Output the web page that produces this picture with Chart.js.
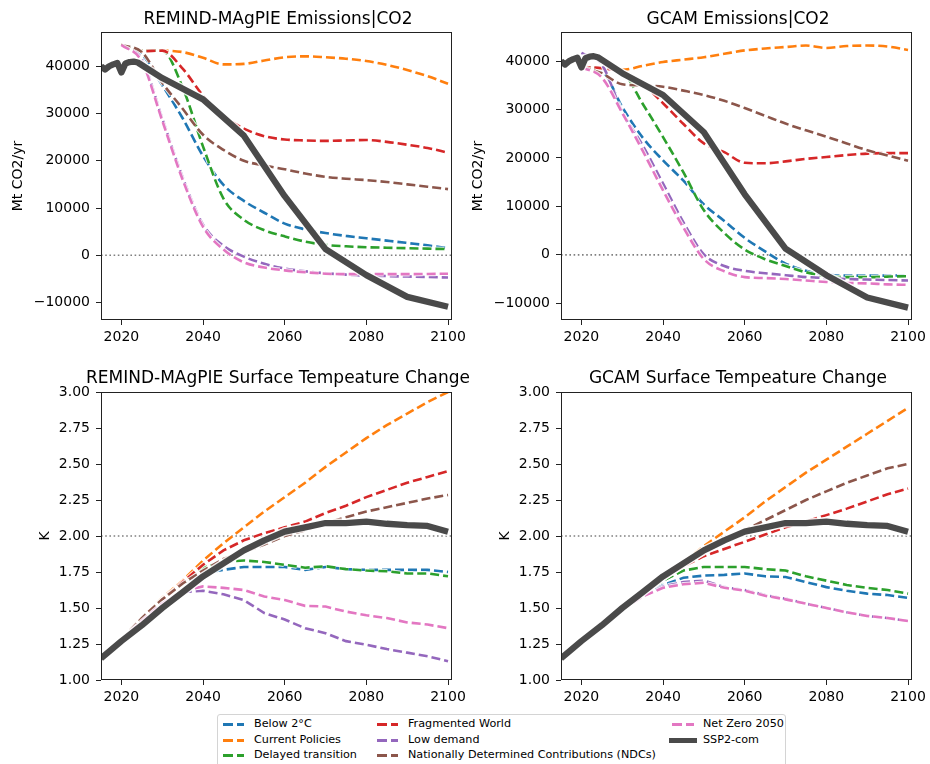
<!DOCTYPE html>
<html>
<head>
<meta charset="utf-8">
<script src="https://cdn.jsdelivr.net/npm/chart.js@4"></script>
<style>
  html, body { margin: 0; padding: 0; background: #fff; }
  #wrap { position: relative; width: 930px; height: 764px; overflow: hidden; background: #fff;
          font-family: 'DejaVu Sans', sans-serif; color: #000; }
  canvas { position: absolute; }
  .title { position: absolute; font-size: 17px; line-height: 20px; white-space: nowrap; transform: translateX(-50%); }
  #legend { position: absolute; left: 217px; top: 714px; width: 569px; height: 60px; background: #fff;
            border: 1px solid #d4d4d4; border-radius: 3px; box-sizing: border-box; }
  .lg-item { position: absolute; font-size: 11.2px; line-height: 14px; white-space: nowrap; }
  .lg-handle { position: absolute; height: 3px; }
</style>
</head>
<body>
<div id="wrap">
  <canvas id="c1" width="470" height="350" style="left:0;top:0"></canvas>
  <canvas id="c2" width="470" height="350" style="left:460px;top:0"></canvas>
  <canvas id="c3" width="470" height="350" style="left:0;top:360px"></canvas>
  <canvas id="c4" width="470" height="350" style="left:460px;top:360px"></canvas>
  <div class="title" style="left:278px;top:8px">REMIND-MAgPIE Emissions|CO2</div>
  <div class="title" style="left:738px;top:8px">GCAM Emissions|CO2</div>
  <div class="title" style="left:278px;top:367px">REMIND-MAgPIE Surface Tempeature Change</div>
  <div class="title" style="left:738px;top:367px">GCAM Surface Tempeature Change</div>
  <div id="legend"></div>
</div>
<script>
// scenario names and line colours
const seriesNames = ['Below 2°C', 'Current Policies', 'Delayed transition', 'Fragmented World',
  'Low demand', 'Nationally Determined Contributions (NDCs)', 'Net Zero 2050'];
const seriesColors = ['#1f77b4', '#ff7f0e', '#2ca02c', '#d62728', '#9467bd', '#8c564b', '#e377c2'];
const sspName = 'SSP2-com';
const sspColor = '#4a4a4a';

// ticks
const xTicks = [2020, 2040, 2060, 2080, 2100];
const emisTicks = [-10000, 0, 10000, 20000, 30000, 40000];
const tempTicks = [1.00, 1.25, 1.50, 1.75, 2.00, 2.25, 2.50, 2.75, 3.00];

// scenario years (5-yearly)
const scenarioYears = [2020, 2025, 2030, 2035, 2040, 2045, 2050, 2055, 2060, 2065, 2070, 2075, 2080, 2085, 2090, 2095, 2100];

// REMIND-MAgPIE emissions, Mt CO2/yr
const remBelow2C    = [44500, 42500, 36000, 29000, 21000, 14900, 11500, 9000, 6700, 5500, 4700, 4100, 3600, 3100, 2600, 2100, 1500];
const remCurrent    = [44500, 43300, 43300, 43000, 41800, 40400, 40500, 41200, 41900, 42100, 41900, 41600, 41100, 40300, 39200, 37900, 36300];
const remDelayed    = [44500, 43300, 43300, 35500, 23000, 12000, 7500, 5300, 4000, 2900, 2200, 1900, 1700, 1600, 1500, 1400, 1300];
const remFragmented = [44500, 43200, 43300, 39500, 33800, 29500, 26800, 25200, 24500, 24300, 24200, 24300, 24400, 24000, 23400, 22700, 21700];
const remLowDemand  = [44500, 41500, 29000, 16500, 6500, 2000, -300, -1800, -2800, -3400, -3800, -4100, -4300, -4400, -4500, -4600, -4700];
const remNDC        = [44500, 43000, 36500, 31000, 25500, 22300, 20000, 19000, 18200, 17300, 16600, 16200, 15900, 15500, 15000, 14500, 14000];
const remNetZero    = [44500, 41000, 28500, 16000, 6000, 1200, -1500, -2600, -3200, -3600, -3900, -4000, -4000, -4000, -4000, -3950, -3900];

// GCAM emissions, Mt CO2/yr
const gcamBelow2C    = [38800, 38000, 30500, 24200, 19500, 15300, 10400, 7000, 3500, 700, -1800, -3300, -4100, -4300, -4300, -4300, -4200];
const gcamCurrent    = [38700, 38400, 38200, 39000, 39800, 40300, 40800, 41500, 42200, 42600, 42900, 43200, 42700, 43100, 43200, 43000, 42300];
const gcamDelayed    = [38800, 38500, 37700, 31200, 24300, 17000, 9200, 4500, 1100, -900, -2300, -3600, -4400, -4600, -4600, -4500, -4400];
const gcamFragmented = [38800, 38500, 37800, 35300, 31300, 27000, 23000, 21200, 19000, 18900, 19300, 19800, 20200, 20600, 20900, 21000, 21000];
const gcamLowDemand  = [41700, 39300, 29500, 22600, 14700, 6700, 100, -2300, -3300, -3800, -4200, -4600, -4800, -5000, -5100, -5200, -5300];
const gcamNDC        = [38800, 37500, 35200, 35000, 34700, 33900, 33000, 31800, 30300, 28700, 27100, 25700, 24400, 23000, 21600, 20500, 19400];
const gcamNetZero    = [38700, 36600, 29300, 21500, 13300, 5600, -900, -3400, -4600, -4800, -5000, -5300, -5600, -5800, -5900, -6100, -6200];

// SSP2-com emissions (annual history, then decadal)
const sspEmisYears = [2015, 2016, 2017, 2018, 2019, 2020, 2021, 2022, 2023, 2024, 2030, 2040, 2050, 2060, 2070, 2080, 2090, 2100];
const sspEmis      = [40000, 39300, 40000, 40400, 40700, 38700, 40600, 40900, 41000, 40800, 37500, 33000, 25300, 12500, 1300, -4200, -8800, -10900];

// REMIND-MAgPIE surface temperature change, K
const remTempBelow2C    = [1.28, 1.43, 1.56, 1.67, 1.74, 1.765, 1.785, 1.785, 1.785, 1.765, 1.785, 1.77, 1.765, 1.765, 1.765, 1.765, 1.75];
const remTempCurrent    = [1.28, 1.43, 1.57, 1.69, 1.83, 1.95, 2.06, 2.17, 2.27, 2.37, 2.48, 2.58, 2.68, 2.77, 2.85, 2.93, 3.00];
const remTempDelayed    = [1.28, 1.43, 1.56, 1.67, 1.78, 1.82, 1.83, 1.82, 1.80, 1.78, 1.79, 1.77, 1.76, 1.755, 1.74, 1.74, 1.72];
const remTempFragmented = [1.28, 1.43, 1.56, 1.68, 1.80, 1.90, 1.97, 2.02, 2.06, 2.10, 2.16, 2.21, 2.27, 2.32, 2.37, 2.41, 2.45];
const remTempLowDemand  = [1.28, 1.41, 1.53, 1.61, 1.62, 1.595, 1.555, 1.465, 1.42, 1.36, 1.325, 1.27, 1.245, 1.215, 1.19, 1.165, 1.13];
const remTempNDC        = [1.28, 1.43, 1.56, 1.67, 1.76, 1.84, 1.89, 1.94, 2.00, 2.04, 2.09, 2.13, 2.17, 2.20, 2.23, 2.26, 2.285];
const remTempNetZero    = [1.28, 1.41, 1.53, 1.62, 1.65, 1.64, 1.625, 1.58, 1.555, 1.515, 1.51, 1.475, 1.45, 1.43, 1.40, 1.385, 1.36];

// GCAM surface temperature change, K
const gcamTempBelow2C    = [1.27, 1.38, 1.49, 1.59, 1.66, 1.71, 1.725, 1.73, 1.74, 1.72, 1.715, 1.68, 1.645, 1.62, 1.60, 1.59, 1.57];
const gcamTempCurrent    = [1.27, 1.38, 1.50, 1.61, 1.71, 1.82, 1.93, 2.03, 2.13, 2.24, 2.34, 2.44, 2.53, 2.62, 2.71, 2.80, 2.89];
const gcamTempDelayed    = [1.27, 1.38, 1.49, 1.60, 1.69, 1.76, 1.785, 1.785, 1.785, 1.77, 1.76, 1.72, 1.69, 1.66, 1.64, 1.625, 1.60];
const gcamTempFragmented = [1.27, 1.38, 1.50, 1.60, 1.70, 1.79, 1.86, 1.91, 1.96, 2.01, 2.06, 2.10, 2.145, 2.19, 2.24, 2.29, 2.33];
const gcamTempLowDemand  = [1.27, 1.38, 1.49, 1.58, 1.65, 1.68, 1.69, 1.645, 1.625, 1.59, 1.565, 1.53, 1.50, 1.47, 1.445, 1.43, 1.41];
const gcamTempNDC        = [1.27, 1.38, 1.50, 1.60, 1.70, 1.80, 1.88, 1.96, 2.04, 2.11, 2.18, 2.25, 2.31, 2.37, 2.42, 2.47, 2.50];
const gcamTempNetZero    = [1.27, 1.38, 1.49, 1.58, 1.64, 1.665, 1.675, 1.64, 1.62, 1.585, 1.56, 1.53, 1.50, 1.47, 1.445, 1.43, 1.41];

// SSP2-com temperature
const sspTempYears = [2015, 2020, 2025, 2030, 2035, 2040, 2045, 2050, 2055, 2060, 2065, 2070, 2075, 2080, 2085, 2090, 2095, 2100];
const sspTemp      = [1.15, 1.27, 1.38, 1.50, 1.61, 1.72, 1.81, 1.90, 1.97, 2.03, 2.06, 2.09, 2.09, 2.10, 2.085, 2.075, 2.07, 2.03];

Chart.defaults.font.family = "'DejaVu Sans', sans-serif";
Chart.defaults.font.size = 14;
Chart.defaults.color = '#000';

const toPoints = (xs, ys) => xs.map((x, i) => ({ x, y: ys[i] }));
const minus = v => (v < 0 ? '\u2212' + Math.abs(v) : String(v));

// dotted reference line + axes frame
const refLine = value => ({
  id: 'refLine',
  beforeDatasetsDraw(chart) {
    const { ctx, chartArea, scales } = chart;
    const py = scales.y.getPixelForValue(value);
    ctx.save();
    ctx.strokeStyle = '#808080';
    ctx.lineWidth = 1.6;
    ctx.setLineDash([1.6, 2.6]);
    ctx.beginPath();
    ctx.moveTo(chartArea.left, py);
    ctx.lineTo(chartArea.right, py);
    ctx.stroke();
    ctx.restore();
  }
});
const frame = {
  id: 'frame',
  afterDraw(chart) {
    const { ctx, chartArea: a } = chart;
    ctx.save();
    ctx.strokeStyle = '#222';
    ctx.lineWidth = 1;
    ctx.strokeRect(Math.round(a.left) + 0.5, Math.round(a.top) + 0.5,
      Math.round(a.right - a.left) - 1, Math.round(a.bottom - a.top) - 1);
    ctx.restore();
  }
};

function makeChart(id, opts) {
  const datasets = [];
  let order = 100;
  opts.scenarios.forEach((vals, i) => {
    const data = toPoints(scenarioYears, vals);
    const common = { data, pointRadius: 0, borderDash: [9, 4], fill: false,
      cubicInterpolationMode: opts.smooth ? 'monotone' : 'default', tension: 0 };
    datasets.push({ ...common, label: seriesNames[i] + ' halo', borderColor: 'rgba(255,255,255,0.85)', borderWidth: 4.6, order: order-- });
    datasets.push({ ...common, label: seriesNames[i], borderColor: seriesColors[i], borderWidth: 2.6, order: order-- });
  });
  const sspData = toPoints(opts.sspYears, opts.sspValues);
  datasets.push({ data: sspData, label: sspName + ' halo', borderColor: 'rgba(255,255,255,0.85)', borderWidth: 9,
    pointRadius: 0, tension: 0, order: order-- });
  datasets.push({ data: sspData, label: sspName, borderColor: sspColor, borderWidth: 6.3,
    pointRadius: 0, tension: 0, borderJoinStyle: 'round', order: order-- });

  return new Chart(document.getElementById(id), {
    type: 'line',
    data: { datasets },
    options: {
      responsive: false,
      animation: false,
      devicePixelRatio: 1,
      layout: { padding: { top: 32, right: 15, bottom: 0, left: 0 } },
      plugins: { legend: { display: false }, tooltip: { enabled: false }, title: { display: false } },
      scales: {
        x: {
          type: 'linear', min: 2015, max: 2101,
          afterBuildTicks: s => { s.ticks = xTicks.map(v => ({ value: v })); },
          afterFit: s => { s.height = 30; },
          ticks: { callback: v => String(v), padding: 4, maxRotation: 0, autoSkip: false },
          grid: { display: true, drawOnChartArea: false, drawTicks: true, tickLength: 5, tickColor: '#222', tickWidth: 1 },
          border: { display: false }
        },
        y: {
          type: 'linear', min: opts.yMin, max: opts.yMax,
          afterBuildTicks: s => { s.ticks = opts.yTicks.map(v => ({ value: v })); },
          afterFit: s => { s.width = 101; },
          ticks: { callback: opts.yFormat, padding: 6, autoSkip: false },
          grid: { display: true, drawOnChartArea: false, drawTicks: true, tickLength: 5, tickColor: '#222', tickWidth: 1 },
          border: { display: false },
          title: { display: true, text: opts.yTitle, font: { size: 14 }, padding: { top: opts.titlePad, bottom: 0 } }
        }
      }
    },
    plugins: [refLine(opts.ref), frame]
  });
}

const emisFmt = v => minus(v);
const tempFmt = v => v.toFixed(2);

makeChart('c1', { scenarios: [remBelow2C, remCurrent, remDelayed, remFragmented, remLowDemand, remNDC, remNetZero],
  sspYears: sspEmisYears, sspValues: sspEmis, smooth: true, yMin: -13700, yMax: 47250, yTicks: emisTicks,
  yFormat: emisFmt, yTitle: 'Mt CO2/yr', titlePad: 9.6, ref: 0 });
makeChart('c2', { scenarios: [gcamBelow2C, gcamCurrent, gcamDelayed, gcamFragmented, gcamLowDemand, gcamNDC, gcamNetZero],
  sspYears: sspEmisYears, sspValues: sspEmis, smooth: true, yMin: -13450, yMax: 46000, yTicks: emisTicks,
  yFormat: emisFmt, yTitle: 'Mt CO2/yr', titlePad: 9.6, ref: 0 });
makeChart('c3', { scenarios: [remTempBelow2C, remTempCurrent, remTempDelayed, remTempFragmented, remTempLowDemand, remTempNDC, remTempNetZero],
  sspYears: sspTempYears, sspValues: sspTemp, smooth: false, yMin: 1, yMax: 3, yTicks: tempTicks,
  yFormat: tempFmt, yTitle: 'K', titlePad: 36.6, ref: 2 });
makeChart('c4', { scenarios: [gcamTempBelow2C, gcamTempCurrent, gcamTempDelayed, gcamTempFragmented, gcamTempLowDemand, gcamTempNDC, gcamTempNetZero],
  sspYears: sspTempYears, sspValues: sspTemp, smooth: false, yMin: 1, yMax: 3, yTicks: tempTicks,
  yFormat: tempFmt, yTitle: 'K', titlePad: 36.6, ref: 2 });

// legend (three columns, matplotlib style)
const legend = document.getElementById('legend');
const colX = [5, 159, 454];      // handle x inside box
const rowY = [9, 25, 40];        // row centre inside box
const entries = seriesNames.map((name, i) => ({ name, color: seriesColors[i], dashed: true }))
  .concat([{ name: sspName, color: sspColor, dashed: false }]);
entries.forEach((e, k) => {
  const col = Math.floor(k / 3), row = k % 3;
  const h = document.createElement('div');
  h.className = 'lg-handle';
  h.style.left = colX[col] + 'px';
  h.style.width = (col === 2 ? 22 : 21) + 'px';
  if (e.dashed) {
    h.style.top = (rowY[row] - 1) + 'px';
    h.style.background = `linear-gradient(to right, ${e.color} 0 10px, transparent 10px 14px, ${e.color} 14px 100%)`;
  } else {
    h.style.top = (rowY[row] - 2.5) + 'px';
    h.style.height = '5px';
    h.style.left = (colX[col] - 3) + 'px';
    h.style.width = '28px';
    h.style.background = e.color;
  }
  legend.appendChild(h);
  const t = document.createElement('div');
  t.className = 'lg-item';
  t.style.left = (colX[col] + 31) + 'px';
  t.style.top = (rowY[row] - 7) + 'px';
  t.textContent = e.name;
  legend.appendChild(t);
});
</script>
</body>
</html>
